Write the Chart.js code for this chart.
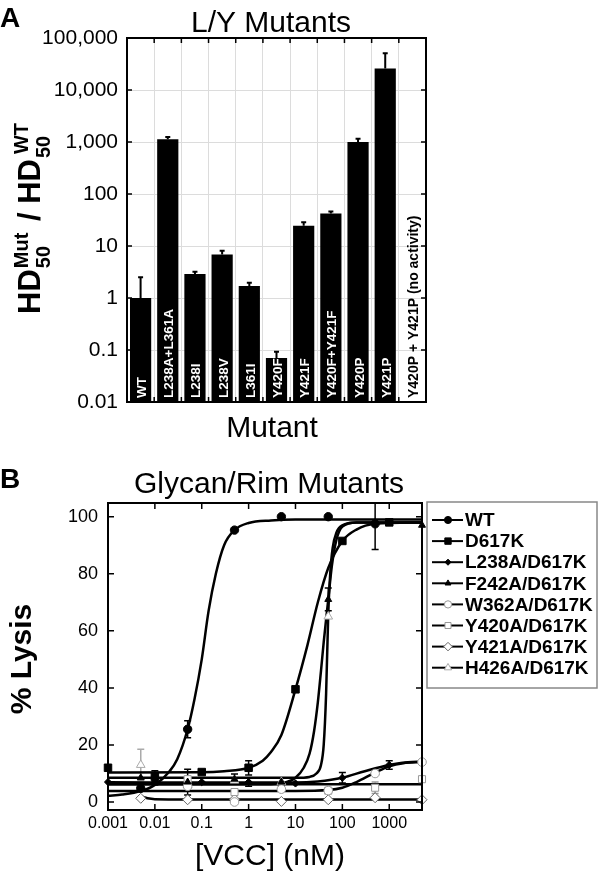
<!DOCTYPE html>
<html>
<head>
<meta charset="utf-8">
<script src="https://cdn.jsdelivr.net/npm/chart.js@4.4.1/dist/chart.umd.min.js"></script>
<style>
	body { margin: 0; background: #fff; width: 600px; height: 873px; overflow: hidden; position: relative; }
	canvas { position: absolute; left: 0; }
	#chartA { top: 0; }
	#chartB { top: 450px; }
</style>
</head>
<body>
<canvas id="chartA" width="600" height="450"></canvas>
<canvas id="chartB" width="600" height="423"></canvas>
<script>
const FONT = '"Liberation Sans", Arial, Helvetica, sans-serif';

// Panel A: L/Y mutants, HD50 ratio
const mutants = ['WT', 'L238A+L361A', 'L238I', 'L238V', 'L361I', 'Y420F', 'Y421F', 'Y420F+Y421F', 'Y420P', 'Y421P', 'Y420P + Y421P (no activity)'];
const hdRatio = [1, 1130, 2.9, 6.9, 1.7, 0.07, 24.5, 42, 1000, 26000, null];
const hdErrTop = [2.5, 1250, 3.2, 8.1, 1.97, 0.093, 28.6, 46, 1160, 51000, null];
const ratioTicks = [0.01, 0.1, 1, 10, 100, 1000, 10000, 100000];
const ratioTickLabels = ['0.01', '0.1', '1', '10', '100', '1,000', '10,000', '100,000'];

// Panel B: glycan/rim mutants, % lysis vs [VCC]
const concTicks = [0.001, 0.01, 0.1, 1, 10, 100, 1000];
const concTickLabels = ['0.001', '0.01', '0.1', '1', '10', '100', '1000'];
const lysisTicks = [0, 20, 40, 60, 80, 100];

const wtConc = [0.005, 0.05, 0.5, 5, 50, 500];
const wtLysis = [4.8, 25.5, 95.3, 100, 100, 97.5];
const wtErr = [0, 3, 0, 0, 0, 9];
const wtFitConc = [0.001, 0.002, 0.005, 0.01, 0.02, 0.03, 0.05, 0.07, 0.1, 0.14, 0.2, 0.3, 0.5, 1, 3, 10, 5000];
const wtFitLysis = [2.2, 2.6, 3.8, 6, 10.5, 15, 25.5, 36, 50, 67, 80, 90, 95.3, 97.8, 98.7, 99, 99];

const d617kConc = [0.001, 0.01, 0.1, 1, 10, 100, 1000];
const d617kLysis = [12, 9, 10.5, 12, 39.5, 91.5, 98];
const d617kErr = [0, 2, 0, 2.5, 0, 0, 0];
const d617kFitConc = [0.001, 0.1, 0.3, 1, 2, 3, 5, 10, 18, 30, 50, 100, 200, 500, 5000];
const d617kFitLysis = [10.3, 10.4, 10.8, 12, 14.5, 17.5, 23.5, 39.5, 55, 70, 82, 91.5, 95.5, 97.5, 98];

const l238aConc = [0.001, 0.01, 0.1, 1, 10, 100, 1000];
const l238aLysis = [7, 7.5, 7, 7, 6.5, 8.5, 13];
const l238aErr = [0, 1.5, 0, 1.5, 0, 1.8, 1.5];
const l238aFitConc = [0.001, 1, 10, 30, 100, 300, 1000, 2500, 5000];
const l238aFitLysis = [6.9, 6.8, 6.8, 7.2, 8.5, 10.8, 13, 13.9, 14.2];

const f242aConc = [0.005, 0.05, 0.5, 5, 50, 500, 5000];
const f242aLysis = [8.5, 7, 8, 7, 71, 98, 97];
const f242aErr = [0, 4.5, 1.8, 1.5, 4, 0, 0];
const f242aFitConc = [0.001, 10, 20, 28, 35, 40, 45, 50, 55, 62, 75, 100, 200, 5000];
const f242aFitLysis = [8.5, 8.5, 8.8, 10, 13, 20, 38, 66, 80, 89, 94.5, 97, 98, 98];

const w362aConc = [0.05, 0.5, 5, 50, 500, 5000];
const w362aLysis = [5.5, 0, 4.5, 4, 10, 14];
const w362aErr = [0, 0, 0, 0, 0, 0];
const w362aFitConc = [0.001, 10, 50, 100, 200, 500, 1000, 2000, 5000];
const w362aFitLysis = [3.9, 3.9, 4.2, 5, 7, 10.3, 12.5, 13.6, 14];

const y420aConc = [0.05, 0.5, 50, 500, 5000];
const y420aLysis = [8, 3.5, 4, 5, 8];
const y420aErr = [0, 0, 1, 2, 0];
const y420aFitConc = [0.001, 5000];
const y420aFitLysis = [6.2, 6.2];

const y421aConc = [0.005, 0.05, 0.5, 5, 50, 500, 5000];
const y421aLysis = [1.3, 0.8, 1, 0.2, 0.8, 1.5, 0.8];
const y421aErr = [0, 0, 0, 0, 0, 0, 0];
const y421aFitConc = [0.005, 0.007, 0.01, 0.05, 5000];
const y421aFitLysis = [2, 1.3, 1, 0.9, 0.9];

const h426aConc = [0.005, 0.05, 0.5, 5, 50];
const h426aLysis = [13, 6, 7.5, 7, 65];
const h426aErr = [5.5, 0, 0, 0, 0];
const h426aFitConc = [0.001, 3, 6, 10, 15, 20, 25, 30, 35, 40, 45, 50, 60, 75, 100, 200, 5000];
const h426aFitLysis = [6.2, 6.2, 6.8, 8.5, 12, 17, 25, 35, 46, 56, 64, 71, 83, 92, 96.5, 98, 98];

const series = [
	{ name: 'WT', conc: wtConc, lysis: wtLysis, err: wtErr, fitConc: wtFitConc, fitLysis: wtFitLysis, style: 'circle', r: 4.2, fill: '#000', stroke: '#000' },
	{ name: 'D617K', conc: d617kConc, lysis: d617kLysis, err: d617kErr, fitConc: d617kFitConc, fitLysis: d617kFitLysis, style: 'rect', r: 5.3, fill: '#000', stroke: '#000' },
	{ name: 'L238A/D617K', conc: l238aConc, lysis: l238aLysis, err: l238aErr, fitConc: l238aFitConc, fitLysis: l238aFitLysis, style: 'rectRot', r: 3.6, fill: '#000', stroke: '#000' },
	{ name: 'F242A/D617K', conc: f242aConc, lysis: f242aLysis, err: f242aErr, fitConc: f242aFitConc, fitLysis: f242aFitLysis, style: 'triangle', r: 4, fill: '#000', stroke: '#000' },
	{ name: 'W362A/D617K', conc: w362aConc, lysis: w362aLysis, err: w362aErr, fitConc: w362aFitConc, fitLysis: w362aFitLysis, style: 'circle', r: 4.3, fill: '#fff', stroke: '#999' },
	{ name: 'Y420A/D617K', conc: y420aConc, lysis: y420aLysis, err: y420aErr, fitConc: y420aFitConc, fitLysis: y420aFitLysis, style: 'rect', r: 5, fill: '#fff', stroke: '#999' },
	{ name: 'Y421A/D617K', conc: y421aConc, lysis: y421aLysis, err: y421aErr, fitConc: y421aFitConc, fitLysis: y421aFitLysis, style: 'rectRot', r: 5, fill: '#fff', stroke: '#666' },
	{ name: 'H426A/D617K', conc: h426aConc, lysis: h426aLysis, err: h426aErr, fitConc: h426aFitConc, fitLysis: h426aFitLysis, style: 'triangle', r: 5, fill: '#fff', stroke: '#aaa' },
];

Chart.defaults.color = '#000';
Chart.defaults.font.family = FONT;

// Inside tick marks + full frame around the plot area
function drawFrame(ctx, a, xs, ys, len, width) {
	ctx.save();
	ctx.strokeStyle = '#000';
	ctx.lineWidth = width;
	ctx.beginPath();
	xs.forEach(px => {
		ctx.moveTo(px, a.top); ctx.lineTo(px, a.top + len);
		ctx.moveTo(px, a.bottom); ctx.lineTo(px, a.bottom - len);
	});
	ys.forEach(py => {
		ctx.moveTo(a.left, py); ctx.lineTo(a.left + len, py);
		ctx.moveTo(a.right, py); ctx.lineTo(a.right - len, py);
	});
	ctx.stroke();
	ctx.lineWidth = width + 0.5;
	ctx.strokeRect(a.left, a.top, a.right - a.left, a.bottom - a.top);
	ctx.restore();
}

function drawRatioTitle(ctx) {
	const big = 'bold 31px ' + FONT;
	const small = 'bold 20px ' + FONT;
	ctx.save();
	ctx.translate(40, 220);
	ctx.rotate(-Math.PI / 2);
	ctx.textAlign = 'left';
	ctx.textBaseline = 'alphabetic';
	const w = (t, f) => { ctx.font = f; return ctx.measureText(t).width; };
	const hd = w('HD', big), slash = w(' / ', big);
	const s1 = Math.max(w('50', small), w('Mut', small)) + 3;
	const s2 = Math.max(w('50', small), w('WT', small)) + 3;
	let x = -(hd * 2 + slash + s1 + s2) / 2;
	ctx.font = big; ctx.fillText('HD', x, 0); x += hd + 1;
	ctx.font = small; ctx.fillText('50', x, 10); ctx.fillText('Mut', x, -12); x += s1;
	ctx.font = big; ctx.fillText(' / ', x, 0); x += slash;
	ctx.fillText('HD', x, 0); x += hd + 1;
	ctx.font = small; ctx.fillText('50', x, 10); ctx.fillText('WT', x + 4, -12);
	ctx.restore();
}

const panelA = {
	id: 'panelA',
	afterDatasetsDraw(chart) {
		const { ctx, chartArea: a, scales: { x, y } } = chart;
		ctx.save();
		// error bars, upper only
		ctx.strokeStyle = '#000';
		ctx.lineWidth = 2;
		hdErrTop.forEach((e, i) => {
			if (e == null) return;
			const cx = x.getPixelForValue(i);
			const top = y.getPixelForValue(e);
			const base = y.getPixelForValue(hdRatio[i]);
			ctx.beginPath();
			ctx.moveTo(cx, base); ctx.lineTo(cx, top);
			ctx.moveTo(cx - 2.5, top); ctx.lineTo(cx + 2.5, top);
			ctx.stroke();
		});
		// labels written up the bars
		mutants.forEach((m, i) => {
			const cx = x.getPixelForValue(i);
			const last = hdRatio[i] == null;
			ctx.save();
			ctx.translate(cx + 5.5, a.bottom - 4);
			ctx.rotate(-Math.PI / 2);
			ctx.font = (last ? 'bold 14px ' : 'bold 13.5px ') + FONT;
			ctx.fillStyle = last ? '#000' : '#fff';
			ctx.textAlign = 'left';
			ctx.textBaseline = 'alphabetic';
			ctx.fillText(m, 0, 0);
			ctx.restore();
		});
		ctx.restore();
		const bounds = [];
		for (let i = 0; i < mutants.length - 1; i++) {
			bounds.push((x.getPixelForValue(i) + x.getPixelForValue(i + 1)) / 2);
		}
		drawFrame(ctx, a, bounds, ratioTicks.map(v => y.getPixelForValue(v)), 5, 1.5);
	},
	afterDraw(chart) {
		const ctx = chart.ctx;
		ctx.save();
		ctx.fillStyle = '#000';
		ctx.textBaseline = 'alphabetic';
		ctx.font = 'bold 28px ' + FONT;
		ctx.textAlign = 'left';
		ctx.fillText('A', 0, 27);
		ctx.font = '30px ' + FONT;
		ctx.textAlign = 'center';
		ctx.fillText('L/Y Mutants', 271, 32);
		ctx.fillText('Mutant', 272, 437);
		ctx.restore();
		drawRatioTitle(ctx);
	}
};

new Chart(document.getElementById('chartA'), {
	type: 'bar',
	data: {
		labels: mutants,
		datasets: [{
			data: hdRatio,
			backgroundColor: '#000',
			barPercentage: 0.78,
			categoryPercentage: 1,
		}]
	},
	options: {
		responsive: false,
		animation: false,
		devicePixelRatio: 1,
		events: [],
		layout: { padding: { top: 38, right: 174, left: 0, bottom: 0 } },
		plugins: { legend: { display: false }, tooltip: { enabled: false } },
		scales: {
			x: {
				grid: { color: '#dcdcdc', offset: true, drawTicks: false },
				border: { display: false },
				ticks: { display: false },
				afterFit: s => { s.height = 48; }
			},
			y: {
				type: 'logarithmic',
				min: 0.01,
				max: 100000,
				afterBuildTicks: s => { s.ticks = ratioTicks.map(v => ({ value: v })); },
				ticks: {
					callback: (v, i) => ratioTickLabels[i],
					font: { size: 21 },
					color: '#000',
					padding: 9,
				},
				grid: { color: '#dcdcdc', drawTicks: false },
				border: { display: false },
				afterFit: s => { s.width = 127; }
			}
		}
	},
	plugins: [panelA]
});

const panelB = {
	id: 'panelB',
	beforeDatasetsDraw(chart) {
		const { ctx, chartArea: a, scales: { x, y } } = chart;
		ctx.save();
		ctx.beginPath();
		ctx.rect(a.left, a.top, a.right - a.left, a.bottom - a.top);
		ctx.clip();
		ctx.lineWidth = 1.5;
		series.forEach(s => {
			ctx.strokeStyle = s.stroke;
			s.err.forEach((e, i) => {
				if (!e) return;
				const px = x.getPixelForValue(s.conc[i]);
				const hi = y.getPixelForValue(s.lysis[i] + e);
				const lo = y.getPixelForValue(s.lysis[i] - e);
				ctx.beginPath();
				ctx.moveTo(px, lo); ctx.lineTo(px, hi);
				ctx.moveTo(px - 3.5, hi); ctx.lineTo(px + 3.5, hi);
				ctx.moveTo(px - 3.5, lo); ctx.lineTo(px + 3.5, lo);
				ctx.stroke();
			});
		});
		ctx.restore();
	},
	afterDraw(chart) {
		const { ctx, chartArea: a, scales: { x, y } } = chart;
		drawFrame(ctx, a, concTicks.map(v => x.getPixelForValue(v)), lysisTicks.map(v => y.getPixelForValue(v)), 6, 1.5);

		ctx.save();
		ctx.fillStyle = '#000';
		ctx.textBaseline = 'alphabetic';
		ctx.font = 'bold 28px ' + FONT;
		ctx.textAlign = 'left';
		ctx.fillText('B', 0, 38);
		ctx.font = '30px ' + FONT;
		ctx.textAlign = 'center';
		ctx.fillText('Glycan/Rim Mutants', 269, 43);
		ctx.fillText('[VCC] (nM)', 270, 415);
		ctx.save();
		ctx.translate(31, 209);
		ctx.rotate(-Math.PI / 2);
		ctx.font = 'bold 30px ' + FONT;
		ctx.fillText('% Lysis', 0, 0);
		ctx.restore();

		// legend box with line + marker samples
		ctx.strokeStyle = '#888';
		ctx.lineWidth = 1.5;
		ctx.strokeRect(427, 52, 170, 186);
		series.forEach((s, i) => {
			const ly = 70 + i * 21.1;
			ctx.strokeStyle = '#000';
			ctx.lineWidth = 2;
			ctx.beginPath();
			ctx.moveTo(432, ly); ctx.lineTo(463, ly);
			ctx.stroke();
			ctx.fillStyle = s.fill;
			ctx.strokeStyle = s.stroke;
			ctx.lineWidth = 1;
			Chart.helpers.drawPoint(ctx, { pointStyle: s.style, radius: s.r * 0.85, borderWidth: 1, rotation: 0 }, 448, ly);
			ctx.fillStyle = '#000';
			ctx.font = 'bold 19px ' + FONT;
			ctx.textAlign = 'left';
			ctx.textBaseline = 'middle';
			ctx.fillText(s.name, 465, ly + 1);
		});
		ctx.restore();
	}
};

const pointSets = series.map(s => ({
	label: s.name,
	data: s.conc.map((c, i) => ({ x: c, y: s.lysis[i] })),
	showLine: false,
	pointStyle: s.style,
	pointRadius: s.r,
	pointBackgroundColor: s.fill,
	pointBorderColor: s.stroke,
	pointBorderWidth: 1,
	clip: false,
	order: 0,
}));

const fitSets = series.map(s => ({
	label: s.name + ' fit',
	data: s.fitConc.map((c, i) => ({ x: c, y: s.fitLysis[i] })),
	showLine: true,
	pointRadius: 0,
	borderColor: '#000',
	borderWidth: 2.5,
	cubicInterpolationMode: 'monotone',
	fill: false,
	order: 1,
}));

new Chart(document.getElementById('chartB'), {
	type: 'scatter',
	data: { datasets: [...pointSets, ...fitSets] },
	options: {
		responsive: false,
		animation: false,
		devicePixelRatio: 1,
		events: [],
		layout: { padding: { top: 53, right: 178, left: 0, bottom: 0 } },
		plugins: { legend: { display: false }, tooltip: { enabled: false } },
		scales: {
			x: {
				type: 'logarithmic',
				min: 0.001,
				max: 5000,
				afterBuildTicks: s => { s.ticks = concTicks.map(v => ({ value: v })); },
				ticks: {
					callback: (v, i) => concTickLabels[i],
					font: { size: 16 },
					color: '#000',
					padding: 4,
					maxRotation: 0,
					autoSkip: false,
				},
				grid: { display: false, drawTicks: false },
				border: { display: false },
				afterFit: s => { s.height = 63; }
			},
			y: {
				min: -2.8,
				max: 104.8,
				afterBuildTicks: s => { s.ticks = lysisTicks.map(v => ({ value: v })); },
				ticks: {
					font: { size: 18 },
					color: '#000',
					padding: 10,
				},
				grid: { display: false, drawTicks: false },
				border: { display: false },
				afterFit: s => { s.width = 108; }
			}
		}
	},
	plugins: [panelB]
});
</script>
</body>
</html>
